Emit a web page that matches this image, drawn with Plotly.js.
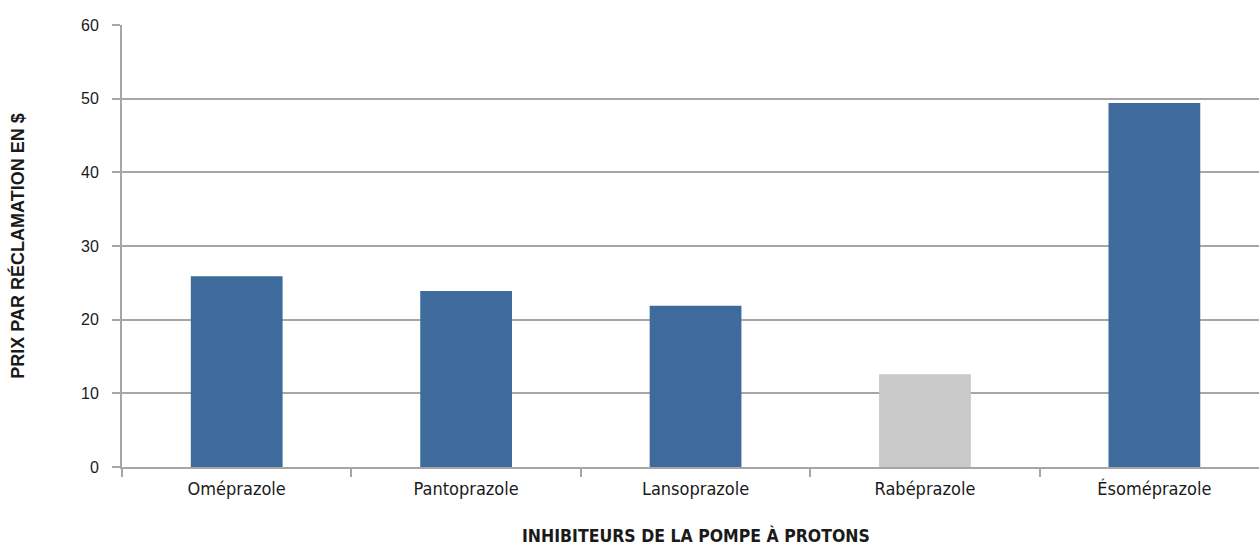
<!DOCTYPE html>
<html>
<head>
<meta charset="utf-8">
<script src="https://cdn.plot.ly/plotly-3.0.1.min.js"></script>
<style>
  html, body { margin: 0; padding: 0; background: #ffffff; }
  #chart { width: 1259px; height: 547px; }
</style>
</head>
<body>
<div id="chart"></div>
<script>
// Prix moyen par réclamation, inhibiteurs de la pompe à protons
const categories = ["Oméprazole", "Pantoprazole", "Lansoprazole", "Rabéprazole", "Ésoméprazole"];
const prices = [25.9, 23.9, 21.9, 12.6, 49.4];
const barColors = ["#3e6b9c", "#3e6b9c", "#3e6b9c", "#c9c9c9", "#3e6b9c"];
const yTicks = [0, 10, 20, 30, 40, 50, 60];

const xTitleText = "INHIBITEURS DE LA POMPE À PROTONS";
const yTitleText = "PRIX PAR RÉCLAMATION EN $";

const condensed = "'Liberation Sans Narrow', 'DejaVu Sans Condensed', 'Open Sans', sans-serif";

const trace = {
  type: "bar",
  x: categories,
  y: prices,
  width: 0.4,
  marker: { color: barColors, line: { width: 0 } },
  hoverinfo: "skip"
};

const layout = {
  width: 1259,
  height: 547,
  margin: { l: 122, r: 0, t: 25, b: 80 },
  paper_bgcolor: "#ffffff",
  plot_bgcolor: "#ffffff",
  showlegend: false,
  xaxis: {
    type: "category",
    range: [-0.5, 4.456],
    tickson: "boundaries",
    ticks: "outside",
    ticklen: 8,
    tickwidth: 2,
    tickcolor: "#a6a6a6",
    ticklabelstandoff: 4,
    showline: true,
    linecolor: "#a6a6a6",
    linewidth: 2,
    showgrid: false,
    zeroline: false,
    fixedrange: true,
    tickfont: { family: condensed, size: 18, color: "#1a1a1a" }
  },
  yaxis: {
    range: [0, 60],
    tickmode: "array",
    tickvals: yTicks,
    ticktext: yTicks.map(String),
    ticks: "outside",
    ticklen: 8,
    tickwidth: 2,
    tickcolor: "#a6a6a6",
    ticklabelstandoff: 10,
    showline: true,
    linecolor: "#a6a6a6",
    linewidth: 2,
    showgrid: true,
    gridcolor: "#a6a6a6",
    gridwidth: 2,
    zeroline: false,
    fixedrange: true,
    tickfont: { family: "'Liberation Sans', Arial, sans-serif", size: 16, color: "#1a1a1a" },
    title: {
      text: "<b>" + yTitleText + "</b>",
      font: { family: "'Liberation Sans', Arial, sans-serif", size: 18, color: "#1a1a1a" },
      standoff: 52
    }
  },
  annotations: [{
    xref: "x", yref: "paper",
    x: 2, y: 0,
    yshift: -68,
    text: "<b>" + xTitleText + "</b>",
    showarrow: false,
    xanchor: "center", yanchor: "middle",
    font: { family: condensed, size: 17.5, color: "#1a1a1a" }
  }]
};

Plotly.newPlot("chart", [trace], layout, { staticPlot: true, displayModeBar: false });
</script>
</body>
</html>
